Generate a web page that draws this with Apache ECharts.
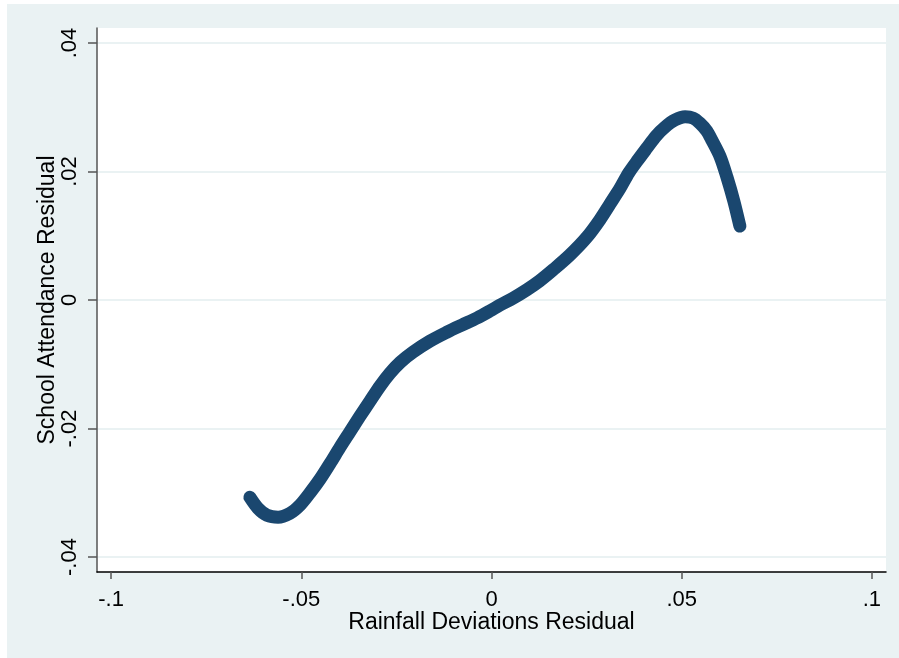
<!DOCTYPE html>
<html>
<head>
<meta charset="utf-8">
<script src="https://cdn.jsdelivr.net/npm/echarts@6/dist/echarts.min.js"></script>
<style>
  html, body { margin: 0; padding: 0; background: #fff; }
  #chart { position: absolute; left: 7px; top: 4px; width: 892px; height: 654px; }
</style>
</head>
<body>
<div id="chart"></div>
<script>
// lowess-style fit
const rainResid = [-0.0635, -0.0614, -0.0590, -0.0561, -0.0530, -0.0503, -0.0477, -0.0451, -0.0424, -0.0398,
  -0.0372, -0.0346, -0.0319, -0.0293, -0.0267, -0.0240, -0.0206, -0.0162, -0.0117, -0.0078,
  -0.0038, -0.0004, 0.0022, 0.0057, 0.0093, 0.0127, 0.0162, 0.0206, 0.0251, 0.0285,
  0.0311, 0.0338, 0.0361, 0.0385, 0.0409, 0.0432, 0.0456, 0.0482, 0.0509, 0.0530,
  0.0548, 0.0566, 0.0579, 0.0601, 0.0619, 0.0637, 0.0653]
const attendResid = [-0.0307, -0.0324, -0.0335, -0.0338, -0.0332, -0.0319, -0.0300, -0.0279, -0.0254, -0.0229,
  -0.0205, -0.0181, -0.0157, -0.0134, -0.0114, -0.0097, -0.0081, -0.0064, -0.0050, -0.0039,
  -0.0028, -0.0017, -0.0008, 0.0003, 0.0016, 0.0030, 0.0047, 0.0070, 0.0098, 0.0125,
  0.0149, 0.0174, 0.0198, 0.0218, 0.0237, 0.0255, 0.0269, 0.0280, 0.0285, 0.0283,
  0.0275, 0.0263, 0.0249, 0.0223, 0.0191, 0.0154, 0.0115]
const xTicks = [-0.1, -0.05, 0, 0.05, 0.1]
const yTicks = [-0.04, -0.02, 0, 0.02, 0.04]

// stata style labels: drop leading zero
function fmt(v) {
  if (v === 0) return '0'
  return String(v).replace('0.', '.')
}

const chart = echarts.init(document.getElementById('chart'))
const font = 'Liberation Sans, Arial, sans-serif'

chart.setOption({
  backgroundColor: '#EAF2F3',
  animation: false,
  grid: {
    left: 90, top: 24, right: 13, bottom: 86,
    show: true, backgroundColor: '#fff', borderWidth: 0
  },
  xAxis: {
    type: 'value',
    min: -0.1037, max: 0.1037,
    name: 'Rainfall Deviations Residual',
    nameLocation: 'middle',
    nameGap: 39,
    nameMoveOverlap: false,
    nameTextStyle: { color: '#000', fontSize: 23, fontFamily: font },
    axisLine: { show: true, onZero: false, lineStyle: { color: '#000', width: 1.5 } },
    axisTick: { show: true, length: 7, customValues: xTicks, lineStyle: { color: '#555', width: 1.5 } },
    axisLabel: { customValues: xTicks, formatter: fmt, color: '#000', fontSize: 22, fontFamily: font, margin: 17 },
    splitLine: { show: false }
  },
  yAxis: {
    type: 'value',
    min: -0.04233, max: 0.04233,
    name: 'School Attendance Residual',
    nameLocation: 'middle',
    nameRotate: 90,
    nameGap: 38,
    nameMoveOverlap: false,
    nameTextStyle: { color: '#000', fontSize: 23, fontFamily: font },
    axisLine: { show: true, onZero: false, lineStyle: { color: '#555', width: 1.5 } },
    axisTick: { show: true, length: 9, customValues: yTicks, lineStyle: { color: '#555', width: 1.5 } },
    axisLabel: { customValues: yTicks, formatter: fmt, rotate: 90, color: '#000', fontSize: 22, fontFamily: font, margin: 16 },
    splitLine: { show: true, lineStyle: { color: '#EAF2F3', width: 2 } }
  },
  series: [{
    type: 'line',
    data: rainResid.map((x, i) => [x, attendResid[i]]),
    smooth: 0.3,
    showSymbol: false,
    lineStyle: { color: '#1a476f', width: 13, cap: 'round', join: 'round' }
  }]
})
</script>
</body>
</html>
